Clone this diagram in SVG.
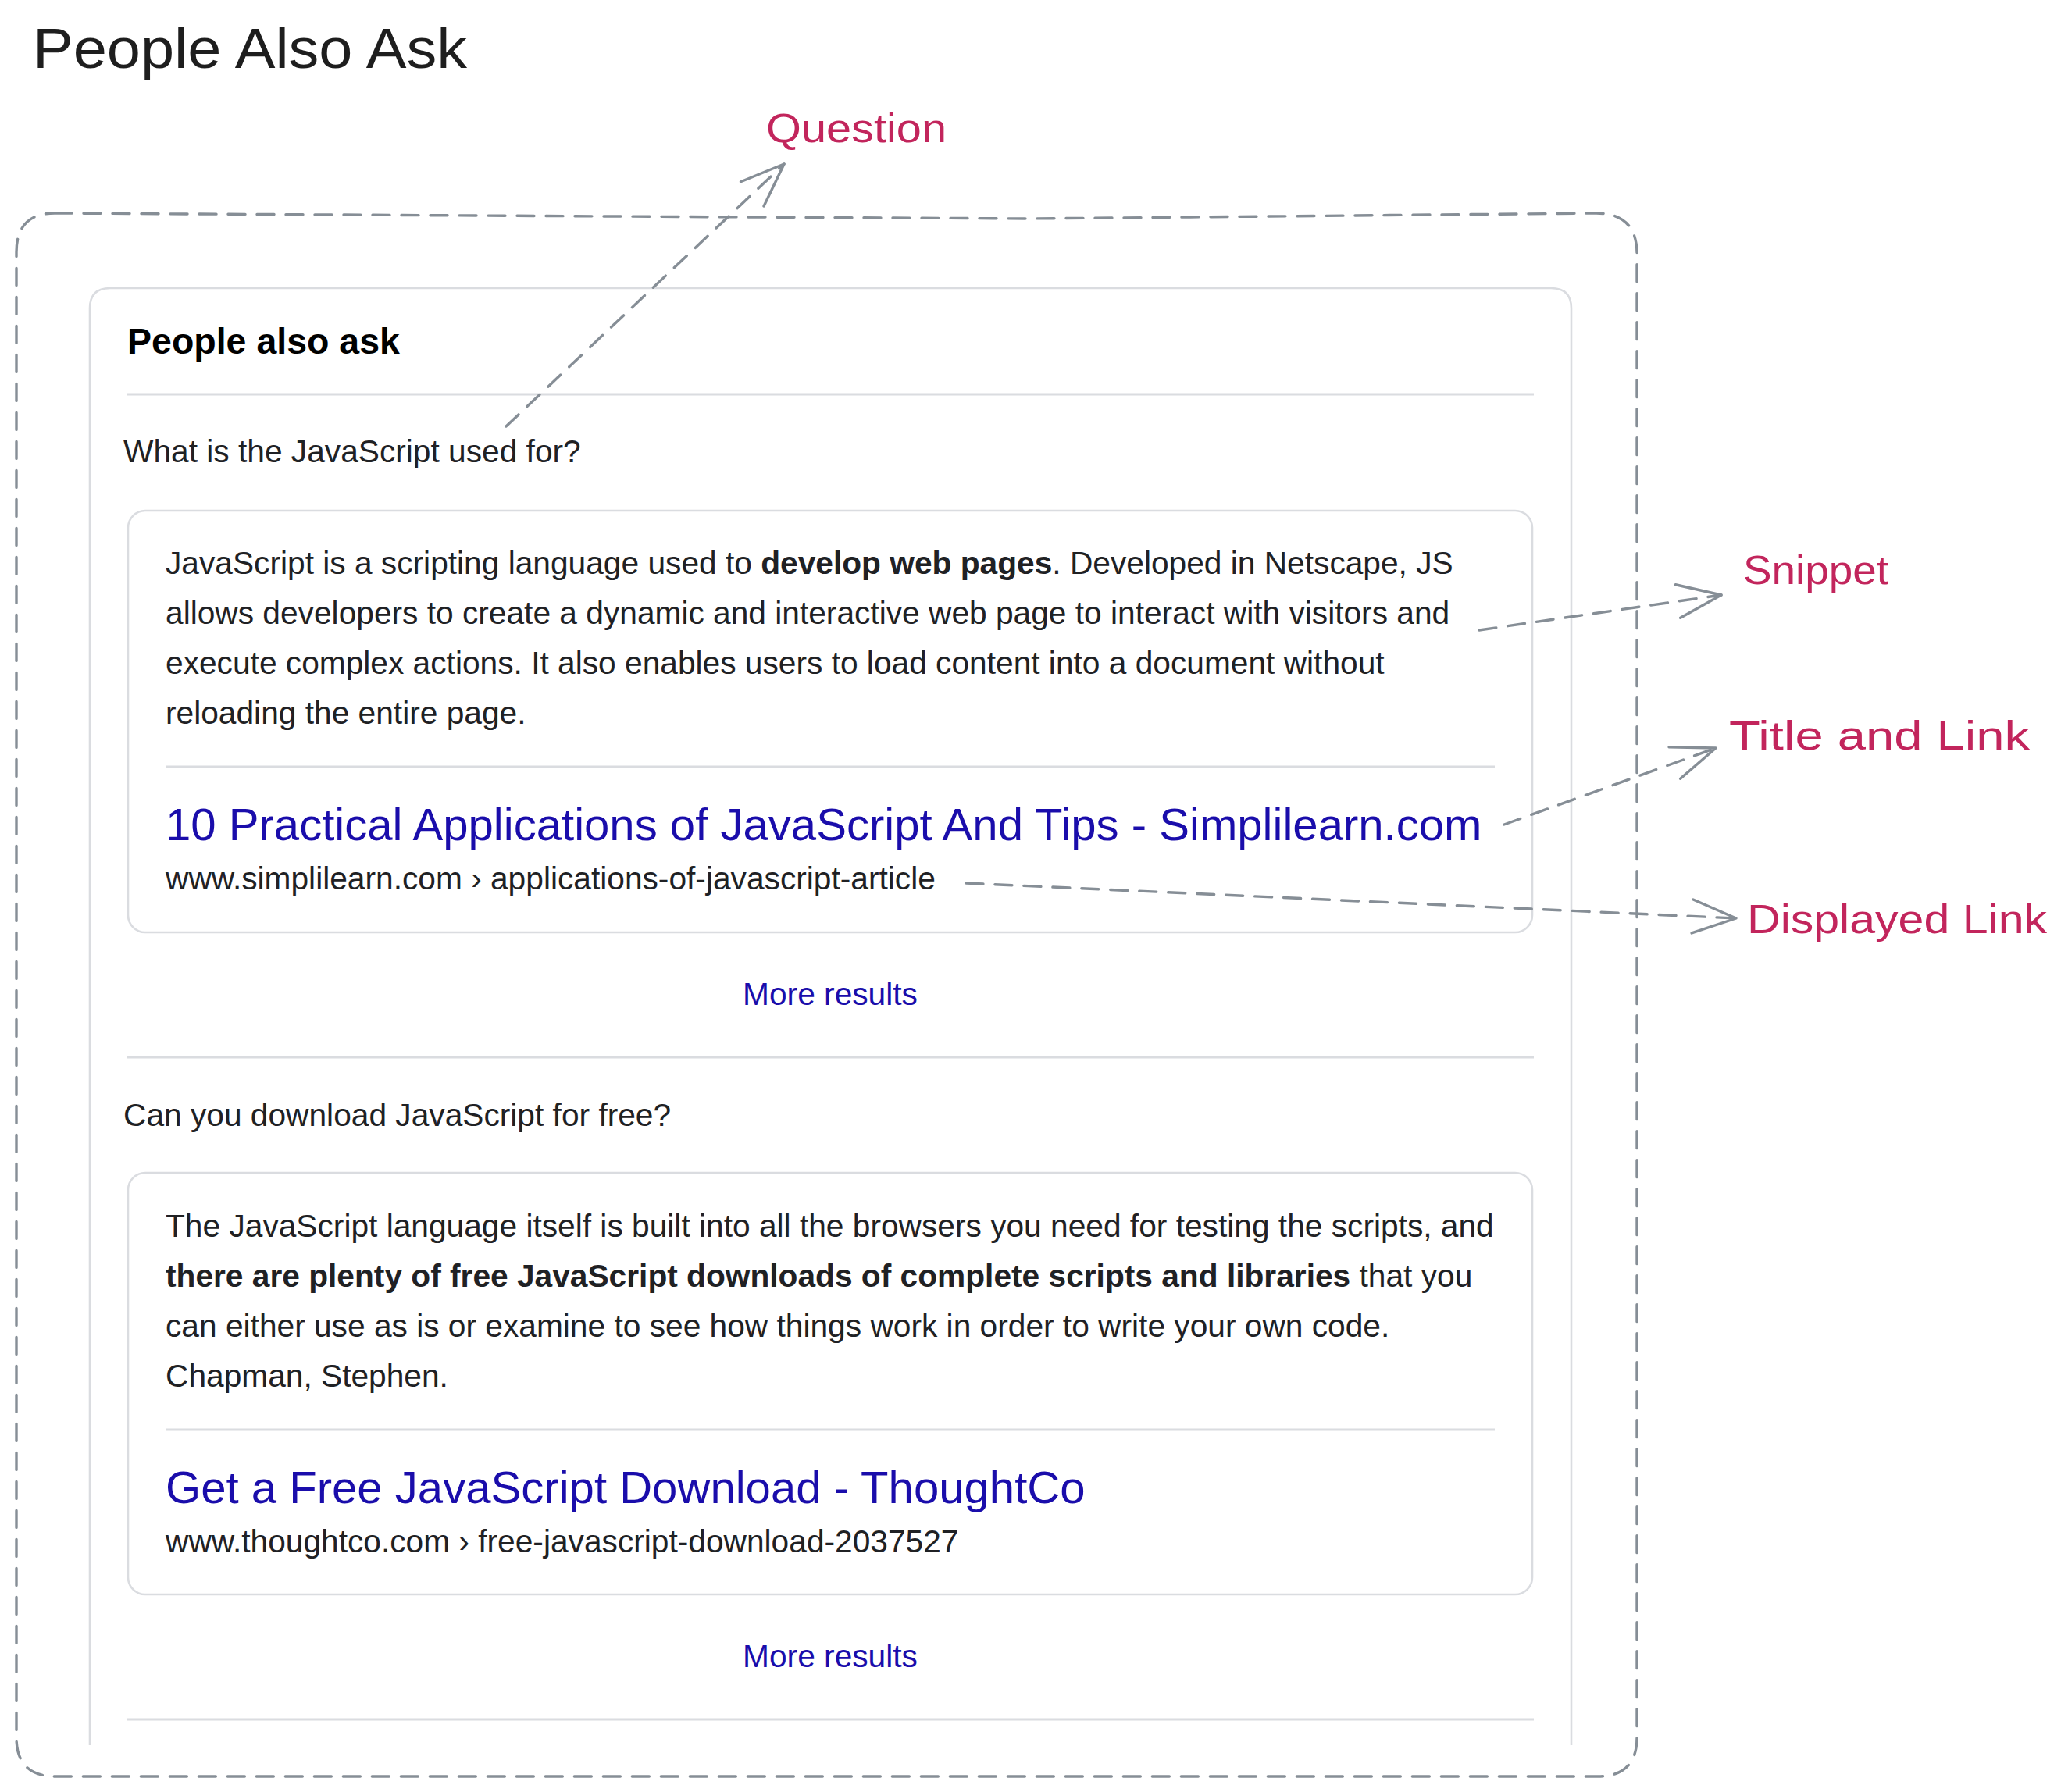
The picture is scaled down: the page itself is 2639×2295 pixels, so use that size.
<svg xmlns="http://www.w3.org/2000/svg" width="2639" height="2295" viewBox="0 0 2639 2295">
<style>
.g{font-family:"Liberation Sans",Arial,sans-serif;fill:#202124;font-size:40.7px}
.b{font-weight:bold}
.lnk{fill:#1a0dab}
.ttl{font-size:58.1px}
.hdr{font-size:46.5px;font-weight:bold;fill:#000}
.hand{font-family:"Liberation Sans",Arial,sans-serif;fill:#c2255c;font-size:52px}
.main{font-family:"Liberation Sans",Arial,sans-serif;fill:#1e1e1e;font-size:72px}
.sep{stroke:#dadce0;stroke-width:3}
.box{fill:none;stroke:#dadce0;stroke-width:2.6}
.dash{fill:none;stroke:#868e96;stroke-width:3.4;stroke-dasharray:22 15;stroke-linecap:round}
.head{fill:none;stroke:#868e96;stroke-width:3.4;stroke-linecap:round;stroke-linejoin:round}
</style>
<defs>
<marker id="ah" markerUnits="userSpaceOnUse" markerWidth="80" markerHeight="60" viewBox="-70 -30 80 60" refX="0" refY="0" orient="auto" overflow="visible">
<path class="head" d="M-56,-21.5 L0,0 L-56,21.5"/>
</marker>
</defs>
<rect width="2639" height="2295" fill="#fff"/>

<g id="page-title">
<text class="main" x="42" y="87" textLength="556" lengthAdjust="spacingAndGlyphs">People Also Ask</text>
</g>

<g id="outer-frame">
<path class="dash" d="M70,273 L1320,280 L2044,273 Q2096,273 2096,325 L2096,2225 Q2096,2275 2046,2275 L71,2275 Q21,2275 21,2225 L21,323 Q21,273 70,273 Z"/>
</g>

<g id="paa-card">
<path class="box" d="M115,2235 L115,395 Q115,369 141,369 L1986,369 Q2012,369 2012,395 L2012,2235"/>
<text class="g hdr" x="163" y="453">People also ask</text>
<line class="sep" x1="162" y1="505" x2="1964" y2="505"/>
</g>

<g id="question-1">
<text class="g" x="158" y="592">What is the JavaScript used for?</text>
</g>

<g id="answer-1">
<rect class="box" x="164" y="654" width="1798" height="540" rx="22"/>
<g id="snippet-1">
<text class="g" x="212" y="735">JavaScript is a scripting language used to <tspan class="b">develop web pages</tspan>. Developed in Netscape, JS</text>
<text class="g" x="212" y="799">allows developers to create a dynamic and interactive web page to interact with visitors and</text>
<text class="g" x="212" y="863">execute complex actions. It also enables users to load content into a document without</text>
<text class="g" x="212" y="927">reloading the entire page.</text>
</g>
<line class="sep" x1="212" y1="982" x2="1914" y2="982"/>
<g id="title-link-1">
<text class="g lnk ttl" x="212" y="1076">10 Practical Applications of JavaScript And Tips - Simplilearn.com</text>
</g>
<g id="displayed-link-1">
<text class="g" x="212" y="1139">www.simplilearn.com › applications-of-javascript-article</text>
</g>
</g>

<g id="more-results-1">
<text class="g lnk" x="1063" y="1287" text-anchor="middle">More results</text>
<line class="sep" x1="162" y1="1354" x2="1964" y2="1354"/>
</g>

<g id="question-2">
<text class="g" x="158" y="1442">Can you download JavaScript for free?</text>
</g>

<g id="answer-2">
<rect class="box" x="164" y="1502" width="1798" height="540" rx="22"/>
<text class="g" x="212" y="1584">The JavaScript language itself is built into all the browsers you need for testing the scripts, and</text>
<text class="g" x="212" y="1648"><tspan class="b">there are plenty of free JavaScript downloads of complete scripts and libraries</tspan> that you</text>
<text class="g" x="212" y="1712">can either use as is or examine to see how things work in order to write your own code.</text>
<text class="g" x="212" y="1776">Chapman, Stephen.</text>
<line class="sep" x1="212" y1="1831" x2="1914" y2="1831"/>
<text class="g lnk ttl" x="212" y="1925">Get a Free JavaScript Download - ThoughtCo</text>
<text class="g" x="212" y="1988">www.thoughtco.com › free-javascript-download-2037527</text>
</g>

<g id="more-results-2">
<text class="g lnk" x="1063" y="2135" text-anchor="middle">More results</text>
<line class="sep" x1="162" y1="2202" x2="1964" y2="2202"/>
</g>

<g id="label-question">
<text class="hand" x="981" y="182" textLength="231" lengthAdjust="spacingAndGlyphs">Question</text>
</g>
<g id="label-snippet">
<text class="hand" x="2232" y="748" textLength="186" lengthAdjust="spacingAndGlyphs">Snippet</text>
</g>
<g id="label-title-link">
<text class="hand" x="2214" y="960" textLength="385" lengthAdjust="spacingAndGlyphs">Title and Link</text>
</g>
<g id="label-displayed-link">
<text class="hand" x="2237" y="1195" textLength="384" lengthAdjust="spacingAndGlyphs">Displayed Link</text>
</g>

<g id="connectors">
<line class="dash" x1="648" y1="546" x2="1004" y2="210" marker-end="url(#ah)"/>
<line class="dash" x1="1894" y1="807" x2="2204" y2="762" marker-end="url(#ah)"/>
<line class="dash" x1="1926" y1="1056" x2="2197" y2="958" marker-end="url(#ah)"/>
<line class="dash" x1="1237" y1="1131" x2="2223" y2="1176" marker-end="url(#ah)"/>
</g>
</svg>
